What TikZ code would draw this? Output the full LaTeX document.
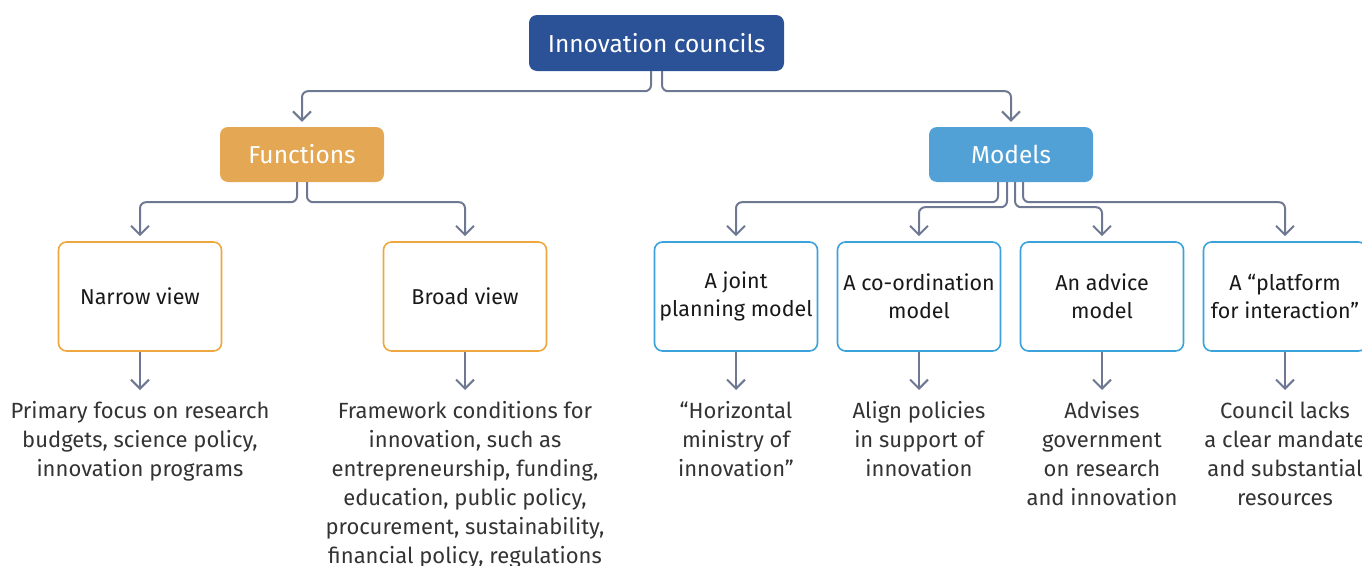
\documentclass[tikz,border=0pt]{standalone}
\usepackage{fontspec}
\setmainfont{Fira Sans}
\usetikzlibrary{arrows.meta}
\definecolor{cdark}{HTML}{2B5196}
\definecolor{corange}{HTML}{E4A855}
\definecolor{clight}{HTML}{52A1D6}
\definecolor{oborder}{HTML}{EFA73F}
\definecolor{bborder}{HTML}{3BA2DC}
\definecolor{cline}{HTML}{6E7892}
\definecolor{ctext}{HTML}{333333}
\tikzset{
  head/.style={rounded corners=8pt, text=white, font=\fontsize{24.5}{28}\selectfont, minimum height=56pt, inner sep=0pt},
  leaf/.style={rounded corners=8pt, draw, line width=1.6pt, fill=white, minimum width=163pt, minimum height=109pt, align=center, inner sep=0pt, font=\fontsize{21.5}{28}\selectfont, text=black!90},
  note/.style={align=center, anchor=north, inner xsep=0pt, inner ysep=11.5pt, font=\fontsize{22}{29}\selectfont, text=ctext},
  conn/.style={draw=cline, line width=2pt, rounded corners=6pt, shorten >=5pt, -{Straight Barb[length=9pt,width=18pt]}},
}
\begin{document}
\begin{tikzpicture}[x=1pt,y=-1pt]
\useasboundingbox (0,0) rectangle (1362,565);
\clip (0,0) rectangle (1362,565);
\node[head, fill=cdark, minimum width=255pt] (top) at (656.5,43) {Innovation councils};
\node[head, fill=corange, minimum width=164pt, minimum height=55pt] (func) at (302,154.5) {Functions};
\node[head, fill=clight, minimum width=164pt, minimum height=55pt] (mod) at (1011,154.5) {Models};

\node[leaf, draw=oborder] (narrow) at (140,296.5) {Narrow view};
\node[leaf, draw=oborder] (broad) at (465,296.5) {Broad view};
\node[leaf, draw=bborder] (joint) at (736,296.5) {A joint\\planning model};
\node[leaf, draw=bborder] (coord) at (919,296.5) {A co-ordination\\model};
\node[leaf, draw=bborder] (advice) at (1102,296.5) {An advice\\model};
\node[leaf, draw=bborder] (plat) at (1285,296.5) {A “platform\\for interaction”};

\node[note] (tnarrow) at (140,390) {Primary focus on research\\budgets, science policy,\\innovation programs};
\node[note] (tbroad) at (465,390) {Framework conditions for\\innovation, such as\\entrepreneurship, funding,\\education, public policy,\\procurement, sustainability,\\financial policy, regulations};
\node[note] (tjoint) at (736,390) {“Horizontal\\ministry of\\innovation”};
\node[note] (tcoord) at (919,390) {Align policies\\in support of\\innovation};
\node[note] (tadvice) at (1102,390) {Advises\\government\\on research\\and innovation};
\node[note] (tplat) at (1285,390) {Council lacks\\a clear mandate\\and substantial\\resources};

\draw[conn] ([xshift=-5.5pt]top.south) -- ++(0,20) -| (func.north);
\draw[conn] ([xshift=5.5pt]top.south) -- ++(0,20) -| (mod.north);

\draw[conn] ([xshift=-5pt]func.south) -- ++(0,20) -| (narrow.north);
\draw[conn] ([xshift=5pt]func.south) -- ++(0,20) -| (broad.north);

\draw[conn] ([xshift=-13pt]mod.south) -- ++(0,20) -| (joint.north);
\draw[conn] ([xshift=-4pt]mod.south) -- ++(0,25) -| (coord.north);
\draw[conn] ([xshift=4pt]mod.south) -- ++(0,25) -| (advice.north);
\draw[conn] ([xshift=12pt]mod.south) -- ++(0,20) -| (plat.north);

\foreach \a/\b in {narrow/tnarrow, broad/tbroad, joint/tjoint, coord/tcoord, advice/tadvice, plat/tplat}
  \draw[conn, shorten >=0pt] (\a.south) -- (\b.north);
\end{tikzpicture}
\end{document}
